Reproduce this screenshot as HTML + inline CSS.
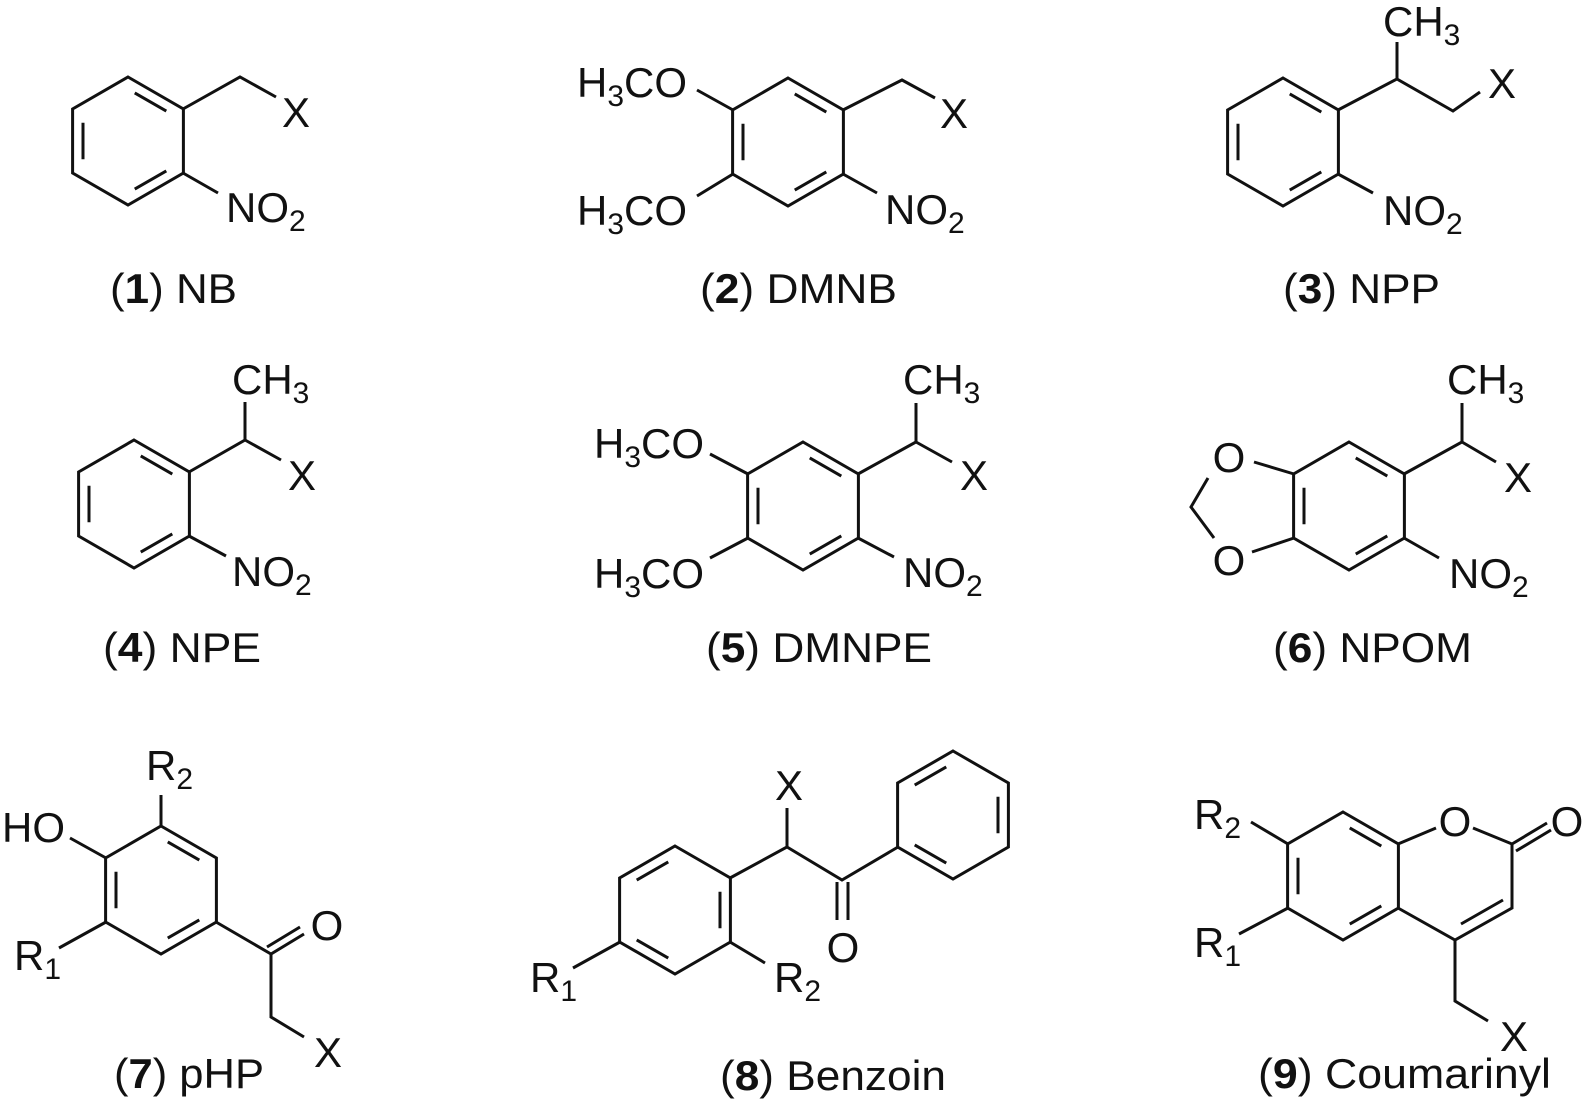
<!DOCTYPE html>
<html><head><meta charset="utf-8"><style>
html,body{margin:0;padding:0;background:#fff}
svg{display:block}
text{font-family:"Liberation Sans",Arial,sans-serif;font-size:42px;fill:#111}
.l{stroke:#111;stroke-width:3;fill:none;stroke-linejoin:miter;stroke-linecap:butt}
</style></head><body>
<svg width="1587" height="1102" viewBox="0 0 1587 1102" xmlns="http://www.w3.org/2000/svg">
<defs>
<g id="ra" class="l"><path d="M0,-64 L55.4,-32 L55.4,32 L0,64 L-55.4,32 L-55.4,-32Z"/><path d="M6.75,-48.1 L38.3,-29.9 M-45,-18.2 L-45,18.2 M6.75,48.1 L38.3,29.9"/></g>
<g id="rb" class="l"><path d="M0,-64 L55.4,-32 L55.4,32 L0,64 L-55.4,32 L-55.4,-32Z"/><path d="M-6.75,-48.1 L-38.3,-29.9 M45,-18.2 L45,18.2 M-6.75,48.1 L-38.3,29.9"/></g>
</defs>

<!-- 1 -->
<use href="#ra" x="128" y="141"/>
<path class="l" d="M183,109 L240,77 L276,97 M183,173 L218,193"/>
<text x="282" y="127">X</text>
<text x="226" y="222">NO<tspan font-size="30" dy="9">2</tspan></text>
<text x="110" y="303" textLength="127" lengthAdjust="spacingAndGlyphs">(<tspan font-weight="bold">1</tspan>) NB</text>

<!-- 2 -->
<use href="#ra" x="788" y="142"/>
<path class="l" d="M843,110 L902,80 L935,98 M843,174 L877,193 M733,110 L697,90 M733,174 L697,196"/>
<text x="940" y="128">X</text>
<text x="885" y="224">NO<tspan font-size="30" dy="9">2</tspan></text>
<text x="577" y="97">H<tspan font-size="30" dy="9">3</tspan><tspan dy="-9">CO</tspan></text>
<text x="577" y="225">H<tspan font-size="30" dy="9">3</tspan><tspan dy="-9">CO</tspan></text>
<text x="700" y="303" textLength="197" lengthAdjust="spacingAndGlyphs">(<tspan font-weight="bold">2</tspan>) DMNB</text>

<!-- 3 -->
<use href="#ra" x="1283" y="142"/>
<path class="l" d="M1338,110 L1397,79 L1397,42 M1397,79 L1453,111 L1480,92 M1338,174 L1373,193"/>
<text x="1383" y="36">CH<tspan font-size="30" dy="9">3</tspan></text>
<text x="1488" y="98">X</text>
<text x="1383" y="225">NO<tspan font-size="30" dy="9">2</tspan></text>
<text x="1283" y="303" textLength="157" lengthAdjust="spacingAndGlyphs">(<tspan font-weight="bold">3</tspan>) NPP</text>

<!-- 4 -->
<use href="#ra" x="134" y="504"/>
<path class="l" d="M189,472 L245,440 L245,402 M245,440 L281,460 M189,536 L226,556"/>
<text x="232" y="394">CH<tspan font-size="30" dy="9">3</tspan></text>
<text x="288" y="490">X</text>
<text x="232" y="586">NO<tspan font-size="30" dy="9">2</tspan></text>
<text x="103" y="662" textLength="158" lengthAdjust="spacingAndGlyphs">(<tspan font-weight="bold">4</tspan>) NPE</text>

<!-- 5 -->
<use href="#ra" x="803" y="506"/>
<path class="l" d="M858,474 L916,442 L916,403 M916,442 L952,462 M858,538 L894,557 M748,474 L710,454 M748,538 L710,558"/>
<text x="903" y="394">CH<tspan font-size="30" dy="9">3</tspan></text>
<text x="960" y="490">X</text>
<text x="903" y="587">NO<tspan font-size="30" dy="9">2</tspan></text>
<text x="594" y="458">H<tspan font-size="30" dy="9">3</tspan><tspan dy="-9">CO</tspan></text>
<text x="594" y="588">H<tspan font-size="30" dy="9">3</tspan><tspan dy="-9">CO</tspan></text>
<text x="706" y="662" textLength="226" lengthAdjust="spacingAndGlyphs">(<tspan font-weight="bold">5</tspan>) DMNPE</text>

<!-- 6 -->
<use href="#ra" x="1349" y="506"/>
<path class="l" d="M1404,474 L1462,442 L1462,403 M1462,442 L1496,462 M1404,538 L1439,558 M1294,474 L1254,462 M1208,478 L1191,507 L1214,538 M1252,552 L1294,538"/>
<text x="1447" y="394">CH<tspan font-size="30" dy="9">3</tspan></text>
<text x="1504" y="492">X</text>
<text x="1449" y="588">NO<tspan font-size="30" dy="9">2</tspan></text>
<text x="1229" y="472" text-anchor="middle">O</text>
<text x="1229" y="575" text-anchor="middle">O</text>
<text x="1273" y="662" textLength="199" lengthAdjust="spacingAndGlyphs">(<tspan font-weight="bold">6</tspan>) NPOM</text>

<!-- 7 -->
<use href="#ra" x="161" y="890"/>
<path class="l" d="M161,826 L161,795 M106,858 L70,838 M106,922 L59,948 M216,922 L271,954 L304,934 M267,947 L300,927 M271,954 L271,1017 L304,1037"/>
<text x="146" y="780">R<tspan font-size="30" dy="9">2</tspan></text>
<text x="2" y="842">HO</text>
<text x="14" y="970">R<tspan font-size="30" dy="9">1</tspan></text>
<text x="327" y="940" text-anchor="middle">O</text>
<text x="314" y="1067">X</text>
<text x="114" y="1088" textLength="150" lengthAdjust="spacingAndGlyphs">(<tspan font-weight="bold">7</tspan>) pHP</text>

<!-- 8 -->
<use href="#rb" x="675" y="910"/>
<use href="#rb" x="953" y="815"/>
<path class="l" d="M730,878 L787,847 L787,808 M787,847 L842,880 L898,847 M837,882 L837,920 M848,882 L848,920 M620,942 L573,968 M730,942 L765,963"/>
<text x="789" y="800" text-anchor="middle">X</text>
<text x="843" y="962" text-anchor="middle">O</text>
<text x="530" y="992">R<tspan font-size="30" dy="9">1</tspan></text>
<text x="774" y="992">R<tspan font-size="30" dy="9">2</tspan></text>
<text x="720" y="1090" textLength="226" lengthAdjust="spacingAndGlyphs">(<tspan font-weight="bold">8</tspan>) Benzoin</text>

<!-- 9 -->
<use href="#ra" x="1343" y="876"/>
<path class="l" d="M1398,844 L1436,828 M1473,828 L1512,844 L1547,823 M1516,851 L1551,830 M1512,844 L1512,908 L1455,940 L1398,908 M1503,900 L1461,924 M1455,940 L1455,1001 L1488,1021 M1288,844 L1251,822 M1288,908 L1239,934"/>
<text x="1455" y="836" text-anchor="middle">O</text>
<text x="1567" y="836" text-anchor="middle">O</text>
<text x="1500" y="1051">X</text>
<text x="1194" y="829">R<tspan font-size="30" dy="9">2</tspan></text>
<text x="1194" y="957">R<tspan font-size="30" dy="9">1</tspan></text>
<text x="1258" y="1088" textLength="293" lengthAdjust="spacingAndGlyphs">(<tspan font-weight="bold">9</tspan>) Coumarinyl</text>
</svg>
</body></html>
